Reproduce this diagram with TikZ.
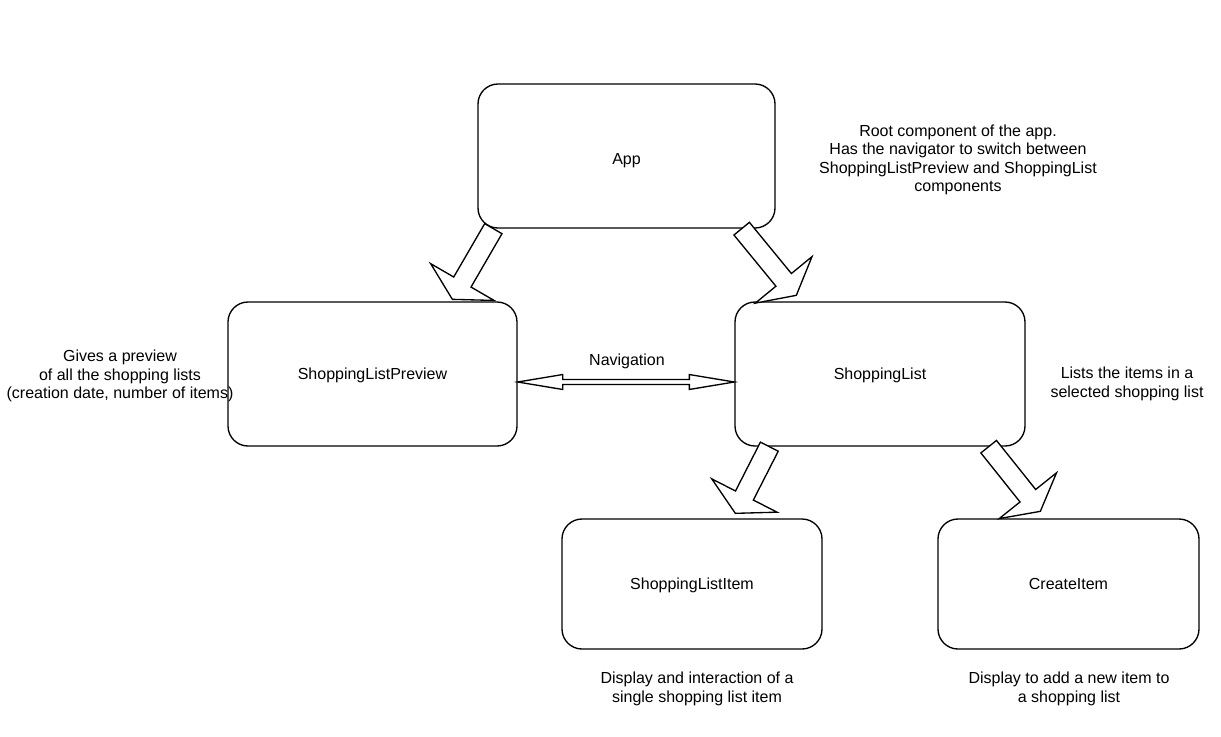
\documentclass[tikz,border=0pt]{standalone}
\usepackage{fontspec}
\setmainfont{Liberation Sans}
\usetikzlibrary{calc}

\begin{document}
\begin{tikzpicture}[
    x=0.75pt, y=-0.75pt,
    font=\fontsize{12pt}{13.8pt}\selectfont,
    caja/.style={draw, line width=1pt, rounded corners=15pt, align=center,
                 text depth=0pt},
    nota/.style={align=center},
    flecha/.style={draw, line width=1pt, fill=white, line join=miter,
      to path={
        ($(\tikztostart)!7.5pt!-90:(\tikztotarget)$)
        -- ($($(\tikztotarget)!15pt!(\tikztostart)$)!7.5pt!90:(\tikztostart)$)
        -- ($($(\tikztotarget)!15pt!(\tikztostart)$)!27.5pt!90:(\tikztostart)$)
        -- (\tikztotarget)
        -- ($($(\tikztotarget)!15pt!(\tikztostart)$)!27.5pt!-90:(\tikztostart)$)
        -- ($($(\tikztotarget)!15pt!(\tikztostart)$)!7.5pt!-90:(\tikztostart)$)
        -- ($(\tikztostart)!7.5pt!90:(\tikztotarget)$)
        -- cycle}},
    navflecha/.style={draw, line width=1pt, fill=white, line join=miter,
      to path={
        (\tikztostart)
        -- ($($(\tikztostart)!33.75pt!(\tikztotarget)$)!5.6pt!-90:(\tikztotarget)$)
        -- ($($(\tikztostart)!33.75pt!(\tikztotarget)$)!1.9pt!-90:(\tikztotarget)$)
        -- ($($(\tikztotarget)!33.75pt!(\tikztostart)$)!1.9pt!90:(\tikztostart)$)
        -- ($($(\tikztotarget)!33.75pt!(\tikztostart)$)!5.6pt!90:(\tikztostart)$)
        -- (\tikztotarget)
        -- ($($(\tikztotarget)!33.75pt!(\tikztostart)$)!5.6pt!-90:(\tikztostart)$)
        -- ($($(\tikztotarget)!33.75pt!(\tikztostart)$)!1.9pt!-90:(\tikztostart)$)
        -- ($($(\tikztostart)!33.75pt!(\tikztotarget)$)!1.9pt!90:(\tikztotarget)$)
        -- ($($(\tikztostart)!33.75pt!(\tikztotarget)$)!5.6pt!90:(\tikztotarget)$)
        -- cycle}}
  ]
  \useasboundingbox (0,0) rectangle (1221,736);

  % --- Componentes ---
  \node[caja, minimum width=222.75pt, minimum height=108pt, text height=13pt]
       (app) at (626.5,156) {App};
  \node[caja, minimum width=216.75pt, minimum height=108pt] (slp) at (372.5,374)
       {ShoppingListPreview};
  \node[caja, minimum width=217.5pt, minimum height=108pt] (sl) at (880,374)
       {ShoppingList};
  \node[caja, minimum width=195pt, minimum height=97.5pt] (sli) at (692,584)
       {ShoppingListItem};
  \node[caja, minimum width=195.75pt, minimum height=97.5pt] (ci) at (1068.5,584)
       {CreateItem};

  % --- Descripciones ---
  \node[nota] (notaapp) at (958,160) {Root component of the app.\\
       Has the navigator to switch between\\ShoppingListPreview and ShoppingList\\components};
  \node[nota] (notaslp) at (120,376) {Gives a preview\\of all the shopping lists\\
       (creation date, number of items)};
  \node[nota] (notasl) at (1127,384) {Lists the items in a\\selected shopping list};
  \node[nota] (notasli) at (697,689) {Display and interaction of a\\single shopping list item};
  \node[nota] (notaci) at (1069,689) {Display to add a new item to\\a shopping list};
  \node (nav) at (627,361) {Navigation};

  % --- Extremos de las flechas ---
  \coordinate (a1s) at ($(app.south west)+(16,0)$);
  \coordinate (a1e) at ($(slp.north west)+(225,-2)$);
  \coordinate (a2s) at ($(app.south east)+(-34,0)$);
  \coordinate (a2e) at ($(sl.north west)+(62,-6)$);
  \coordinate (a3s) at ($(sl.south west)+(35,0)$);
  \coordinate (a3e) at ($(sli.north west)+(174,-5)$);
  \coordinate (a4s) at ($(sl.south east)+(-37,0)$);
  \coordinate (a4e) at ($(ci.north west)+(103,-7)$);
  \coordinate (n1) at ($(slp.east)+(0,8)$);
  \coordinate (n2) at ($(sl.west)+(0,8)$);

  % --- Relaciones ---
  \path[flecha] (a1s) to (a1e);
  \path[flecha] (a2s) to (a2e);
  \path[flecha] (a3s) to (a3e);
  \path[flecha] (a4s) to (a4e);
  \path[navflecha] (n1) to (n2);
\end{tikzpicture}
\end{document}
